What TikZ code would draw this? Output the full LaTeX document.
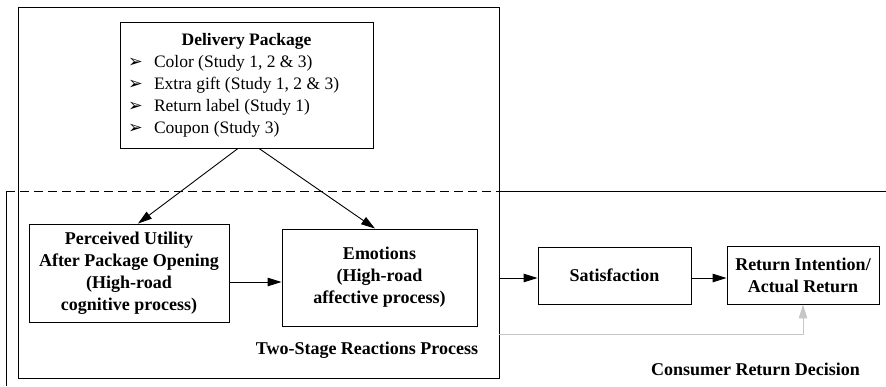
\documentclass[tikz,border=0pt]{standalone}
\usepackage{fontspec}
\setmainfont{Liberation Serif}
\newfontfamily\symfont{DejaVu Sans}
\usetikzlibrary{arrows.meta}

\begin{document}
\begin{tikzpicture}[x=1pt,y=-1pt,line width=0.9pt,
    box/.style={draw,align=center,inner sep=0pt,font=\fontsize{18}{22}\selectfont\bfseries},
    lbl/.style={inner sep=0pt,font=\fontsize{18}{22}\selectfont\bfseries},
    >={Triangle[length=14pt,width=8.5pt]}]
    \useasboundingbox (0,0) rectangle (886,386);
    \node[box,minimum width=481,minimum height=371] (n0) at (258.5,192.5) {};
    \node[box,minimum width=253,minimum height=126,font=\fontsize{17.5}{22}\selectfont] (n1) at (246.5,85) {%
        \begin{tabular}{@{\hspace{8pt}}p{26pt}@{}p{219pt}@{}}
        \multicolumn{2}{@{}c@{}}{\bfseries Delivery Package}\\
        {\symfont ➢} & Color (Study 1, 2 \& 3)\\
        {\symfont ➢} & Extra gift (Study 1, 2 \& 3)\\
        {\symfont ➢} & Return label (Study 1)\\
        {\symfont ➢} & Coupon (Study 3)
        \end{tabular}};
    \node[box,minimum width=200,minimum height=98] (n2) at (129,273) {Perceived Utility\\After Package Opening\\(High-road\\cognitive process)};
    \node[box,minimum width=195,minimum height=97] (n3) at (379.5,277.5) {Emotions\\(High-road\\affective process)};
    \node[box,minimum width=153,minimum height=57] (n4) at (614.5,275.5) {Satisfaction};
    \node[box,minimum width=152,minimum height=58] (n5) at (803,275) {Return Intention/\\Actual Return};
    \node[lbl] (n6) at (367,350) {Two-Stage Reactions Process};
    \node[lbl] (n7) at (755.5,369) {Consumer Return Decision};
    % consumer return decision frame
    \coordinate (c0) at (6,386);
    \coordinate (c1) at (6,191);
    \coordinate (c2) at (n0.east |- c1);
    \coordinate (c3) at (886,191);
    \draw (c0) -- (c1);
    \draw[dash pattern=on 9pt off 5pt] (c1) -- (c2);
    \draw (c2) -- (c3);
    % arrows
    \draw[->] ([xshift=-8.5pt]n1.south) -- ([xshift=9pt]n2.north);
    \draw[->] ([xshift=12.5pt]n1.south) -- ([xshift=-4.5pt]n3.north);
    \draw[->] (n2.east |- 0,282) -- (n3.west |- 0,282);
    \draw[->] (n0.east |- 0,278) -- (n4.west |- 0,278);
    \draw[->] (n4.east |- 0,278) -- (n5.west |- 0,278);
    \draw[gray!45,->] (n0.east |- 0,334) -| (n5.south);
\end{tikzpicture}
\end{document}
